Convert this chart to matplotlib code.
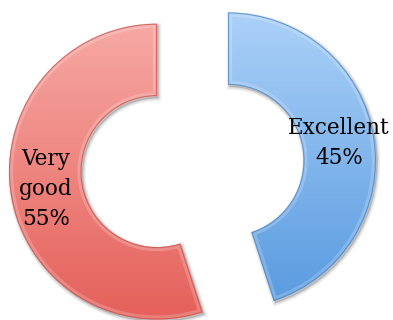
import numpy as np
import matplotlib
matplotlib.use("Agg")
import matplotlib.pyplot as plt
import matplotlib.transforms as mtrans
from matplotlib.path import Path
from matplotlib.patches import PathPatch
from matplotlib.colors import LinearSegmentedColormap

categories = ["Excellent", "Very good"]
shares = [45, 55]

top_colors = ["#abd1f8", "#f7a9a4"]
bottom_colors = ["#5a9be0", "#e5605a"]
edge_colors = ["#4a84c4", "#c9534c"]

fig = plt.figure(figsize=(3.93, 3.20), dpi=100)
ax = fig.add_axes([0, 0, 1, 1])
ax.set_aspect("equal")
ax.axis("off")

name_iter = iter(categories)


def label_fmt(pct):
    name = next(name_iter).replace(" ", "\n")
    return f"{name}\n{pct:.0f}%"


wedges, texts, autotexts = ax.pie(
    shares,
    startangle=90,
    counterclock=False,
    explode=[0.243, 0.243],
    radius=1.0,
    wedgeprops=dict(width=0.49, linewidth=0),
    autopct=label_fmt,
    pctdistance=0.76,
    textprops=dict(family="DejaVu Serif", fontsize=15.5, color="black",
                   linespacing=1.46),
)

# vertical gradient fill, soft shadow and bevel edge for each ring segment
grad = np.linspace(0, 1, 256).reshape(-1, 1)
for w, ctop, cbot, cedge in zip(wedges, top_colors, bottom_colors, edge_colors):
    src = w.get_path()
    data_path = Path(w.get_patch_transform().transform(src.vertices), src.codes)
    x0, y0 = data_path.vertices.min(axis=0)
    x1, y1 = data_path.vertices.max(axis=0)

    for k in range(3):
        sh = PathPatch(data_path, facecolor="black", edgecolor="black",
                       linewidth=1.0 + 1.5 * k, alpha=0.06, zorder=0.5)
        sh.set_transform(ax.transData + mtrans.Affine2D().translate(1.5, -2.0))
        ax.add_patch(sh)

    cmap = LinearSegmentedColormap.from_list("g", [cbot, ctop])
    im = ax.imshow(grad, extent=[x0, x1, y0, y1], origin="lower", cmap=cmap,
                   aspect="auto", zorder=1, interpolation="bilinear")
    im.set_clip_path(w)

    # bevel: light band just inside the outline, darker rim at the edge
    hl = PathPatch(data_path, facecolor="none", edgecolor="white",
                   linewidth=6, alpha=0.2, zorder=1.5)
    ax.add_patch(hl)
    hl.set_clip_path(w)
    rim = PathPatch(data_path, facecolor="none", edgecolor=cedge,
                    linewidth=1.6, alpha=0.75, zorder=1.6)
    ax.add_patch(rim)
    rim.set_clip_path(w)

    w.set_facecolor("none")
    w.set_edgecolor("none")
    w.set_zorder(2)

for t in autotexts:
    t.set_zorder(3)

ax.set_xlim(-1.301, 1.355)
ax.set_ylim(-1.041, 1.122)
fig.savefig("out.png", dpi=100, facecolor="white")
